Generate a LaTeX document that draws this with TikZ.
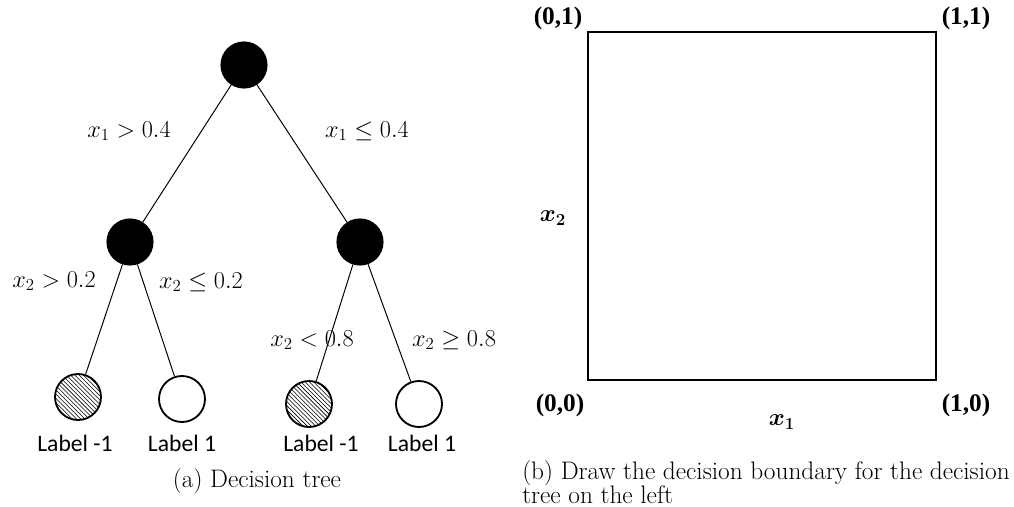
\documentclass[tikz,border=0pt]{standalone}
\usepackage{amsmath}
\usepackage{amssymb}
\usepackage{fontspec}
\newfontfamily\labelfont{Carlito}
\newfontfamily\cornerfont{Liberation Serif}
\usetikzlibrary{patterns}

\begin{document}
\begin{tikzpicture}[
  x=0.025cm, y=-0.025cm,
  split/.style={circle, draw, fill=black, line width=0.8pt, minimum size=1.15cm, inner sep=0pt},
  leaf/.style={circle, draw, line width=1.3pt, minimum size=1.15cm, inner sep=0pt},
  hatched/.style={leaf, pattern=north west lines},
  edge/.style={line width=0.7pt},
  cond/.style={font=\fontsize{18.5}{22}\selectfont},
  leaflabel/.style={font=\labelfont\fontsize{16.8}{19}\selectfont},
  corner/.style={font=\cornerfont\bfseries\fontsize{18}{21}\selectfont},
  caption/.style={font=\fontsize{18}{17.3}\selectfont}
]
  \useasboundingbox (0,0) rectangle (1014,507);

  % tree
  \node (root) [split] at (244,65) {};
  \node (left) [split] at (130,242) {};
  \node (right) [split] at (360,242) {};
  \node (ll) [hatched] at (78,397) {};
  \node (lr) [leaf] at (182,399) {};
  \node (rl) [hatched] at (309,404) {};
  \node (rr) [leaf] at (419,404) {};

  \draw [edge] (root) -- (left);
  \draw [edge] (root) -- (right);
  \draw [edge] (left) -- (ll);
  \draw [edge] (left) -- (lr);
  \draw [edge] (right) -- (rl);
  \draw [edge] (right) -- (rr);

  \node (c1) [cond] at (129,131) {$x_1 > 0.4$};
  \node (c2) [cond] at (367,131) {$x_1 \leq 0.4$};
  \node (c3) [cond] at (54,281) {$x_2 > 0.2$};
  \node (c4) [cond] at (201,282) {$x_2 \leq 0.2$};
  \node (c5) [cond] at (312,340) {$x_2 < 0.8$};
  \node (c6) [cond] at (454,340) {$x_2 \geq 0.8$};

  \node (t1) [leaflabel] at (75,443) {Label -1};
  \node (t2) [leaflabel] at (182,443) {Label 1};
  \node (t3) [leaflabel] at (321,443) {Label -1};
  \node (t4) [leaflabel] at (422,443) {Label 1};

  \node (capa) [caption] at (257,481) {(a) Decision tree};

  % unit square
  \draw [line width=1.6pt] (588,32) rectangle (936,380);
  \node (p01) [corner] at (558,18) {(0,1)};
  \node (p11) [corner] at (966,18) {(1,1)};
  \node (p00) [corner] at (560,405) {(0,0)};
  \node (p10) [corner] at (966,405) {(1,0)};
  \node (axa) [cond] at (782,422) {$\boldsymbol{x}_{\boldsymbol{1}}$};
  \node (axb) [cond] at (553,218) {$\boldsymbol{x}_{\boldsymbol{2}}$};

  \node (capb) [caption, anchor=north west, align=left, inner sep=0pt] at (522,460)
    {(b) Draw the decision boundary for the decision\\tree on the left};
\end{tikzpicture}
\end{document}
